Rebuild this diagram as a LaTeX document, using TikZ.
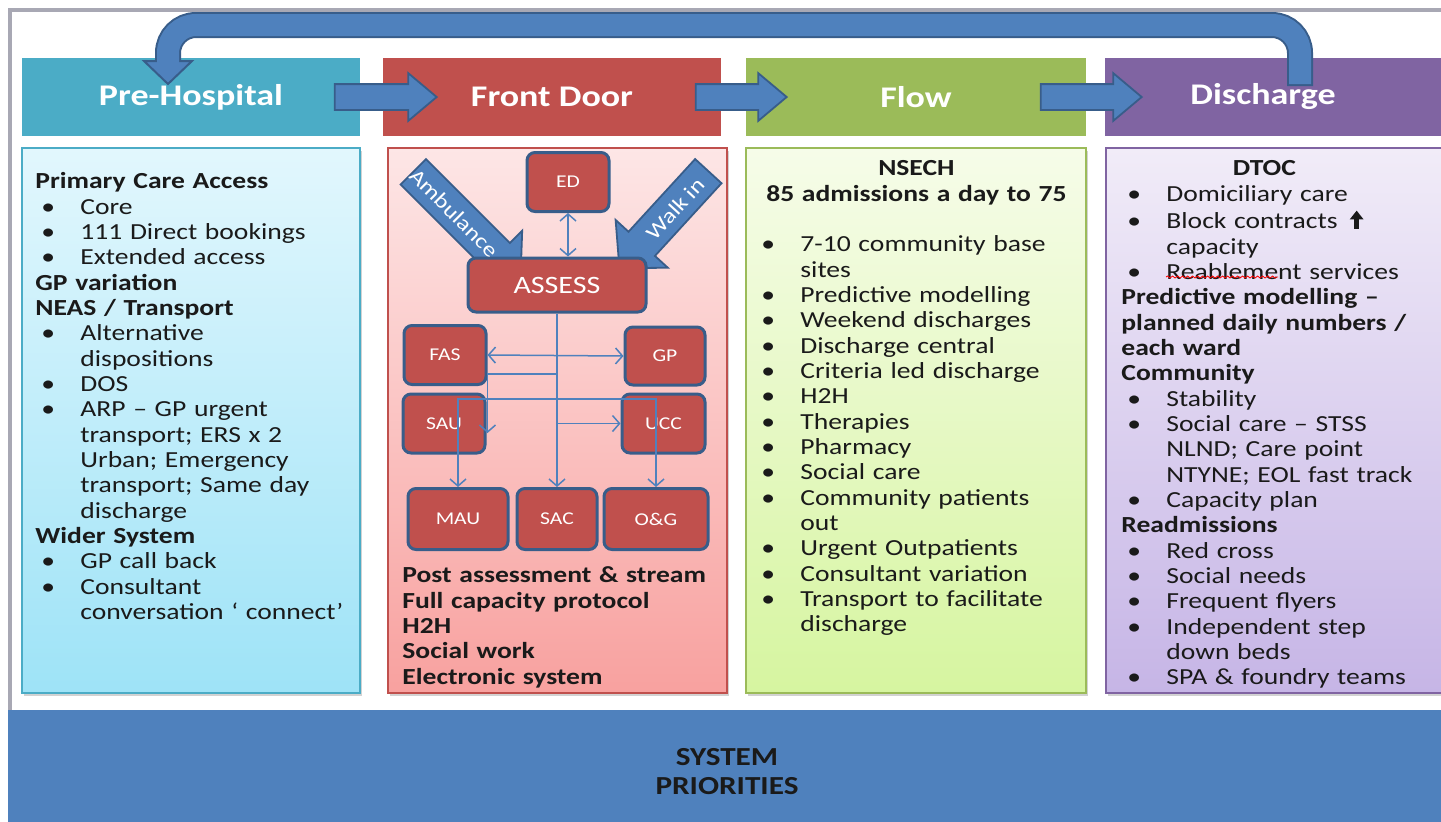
\documentclass[tikz,border=0pt]{standalone}
\usepackage{fontspec}
\setmainfont{Carlito}[FakeStretch=1.2]
\usepackage{tikz}
\usetikzlibrary{positioning, arrows.meta, shapes.arrows, shadows, calc, decorations.pathmorphing}

% colours of the four stages
\definecolor{preHead}{HTML}{4BACC6}
\definecolor{frontHead}{HTML}{C0504D}
\definecolor{flowHead}{HTML}{9BBB59}
\definecolor{dischHead}{HTML}{8064A2}
\definecolor{preTop}{HTML}{E2F7FD}
\definecolor{preBot}{HTML}{9EE3F7}
\definecolor{frontTop}{HTML}{FDE6E6}
\definecolor{frontBot}{HTML}{F8A19F}
\definecolor{flowTop}{HTML}{F6FCE9}
\definecolor{flowBot}{HTML}{D6F5A0}
\definecolor{dischTop}{HTML}{F1ECF8}
\definecolor{dischBot}{HTML}{C6B5E6}
\definecolor{arrowBlue}{HTML}{4F81BD}
\definecolor{edgeBlue}{HTML}{385D8A}
\definecolor{frameGray}{HTML}{A8A8B4}
\definecolor{inkDark}{HTML}{1A1A1A}

% list lines in the panels
\newcommand{\hd}[1]{\par\noindent\strut\textbf{#1}}
\newcommand{\bl}[1]{\par\hangindent=22.5pt\hangafter=1\noindent\strut\hbox to 22.5pt{\hspace{3pt}\textbullet\hfil}#1}
\newcommand{\ctr}[2]{\par\noindent\hbox to #1{\hfil\strut\textbf{#2}\hfil}}
% heavy up arrow
\newcommand{\uparr}{\tikz[x=1pt,y=1pt,baseline=0pt]{\fill (2.2,0) rectangle (4.8,5); \fill (0,4.6) -- (7,4.6) -- (3.5,9) -- cycle;}}

\begin{document}
\begin{tikzpicture}[
    x=0.5pt, y=-0.5pt,
    every node/.style={inner sep=0pt},
    >={Straight Barb[length=3.5pt,width=8pt]},
    hdr/.style={fill=#1, minimum height=39pt, text=white,
        font=\fontsize{15}{18}\selectfont\bfseries},
    panel/.style n args={3}{draw=#1, line width=0.75pt, top color=#2,
        bottom color=#3, minimum height=272.5pt,
        drop shadow={shadow xshift=1.2pt, shadow yshift=-1.5pt, opacity=0.35}},
    listtext/.style={anchor=north west, text width=#1, align=left,
        text=inkDark, font=\fontsize{11.5}{12.67}\selectfont},
    blockarrow/.style={single arrow, fill=arrowBlue, draw=edgeBlue,
        line width=0.9pt, single arrow head extend=5.5pt,
        single arrow tip angle=80, inner xsep=0pt, inner ysep=6pt,
        text height=0pt, text depth=0pt},
    sidearrow/.style={single arrow, fill=arrowBlue, draw=edgeBlue,
        line width=0.9pt, single arrow head extend=8.75pt,
        single arrow tip angle=94, inner xsep=0pt, inner ysep=8.5pt,
        text height=0pt, text depth=0pt},
    sidetext/.style={text=white, font=\fontsize{10.5}{12}\selectfont},
    unit/.style={rectangle, rounded corners=4pt, fill=frontHead,
        draw=edgeBlue, line width=1.5pt, text=white,
        font=\fontsize{9}{10}\selectfont},
    link/.style={draw=arrowBlue, line width=0.75pt}
]
    \useasboundingbox (0,0) rectangle (1441,821);
    \fill[white] (0,0) rectangle (1441,821);

    % 1. Frame and bottom band
    \draw[frameGray, line width=2pt] (8,10) -- (1445,10);
    \draw[frameGray, line width=2pt] (10,10) -- (10,712);
    \fill[arrowBlue] (8,710) rectangle (1445,825);
    \node[align=center, text=inkDark, font=\fontsize{13}{14.5}\selectfont\bfseries]
        (prio) at (727,771.5) {SYSTEM\\PRIORITIES};

    % 2. Stage headers
    \node[hdr=preHead, minimum width=169pt] (pre) at (191,97) {Pre-Hospital};
    \node[hdr=frontHead, minimum width=169pt] (front) at (552,97) {Front Door};
    \node[hdr=flowHead, minimum width=170pt] (flow) at (916,97) {Flow};
    \node[hdr=dischHead, minimum width=170pt] (disch) at (1275,97) {\hspace*{-12pt}Discharge};

    % arrows between the headers
    \node[blockarrow, minimum height=51pt] (arrA) at (378,97) {};
    \node[blockarrow, minimum height=45.5pt] (arrB) at (733.5,97) {};
    \node[blockarrow, minimum height=50.5pt] (arrC) at (1083.5,97) {};

    % loop back from Discharge to Pre-Hospital
    \coordinate (loopS) at (1300,84);
    \coordinate (loopE) at (168,61);
    \draw[edgeBlue, line width=13pt, rounded corners=14pt]
        ($(loopS)+(0,2)$) -- (loopS |- 0,25) -- (loopE |- 0,25) -- (loopE);
    \filldraw[fill=arrowBlue, draw=edgeBlue, line width=1pt]
        ($(loopE)+(-24,0)$) -- ($(loopE)+(24,0)$) -- ($(loopE)+(0,23)$) -- cycle;
    \draw[arrowBlue, line width=11pt, rounded corners=14pt]
        (loopS) -- (loopS |- 0,25) -- (loopE |- 0,25) -- ($(loopE)+(0,2)$);

    % 3. Content panels
    \node[panel={preHead}{preTop}{preBot}, minimum width=169pt] (preBox) at (191,420.5) {};
    \node[panel={frontHead}{frontTop}{frontBot}, minimum width=169.5pt] (frontBox) at (557.5,420.5) {};
    \node[panel={flowHead}{flowTop}{flowBot}, minimum width=170pt] (flowBox) at (916,420.5) {};
    \node[panel={dischHead}{dischTop}{dischBot}, minimum width=170pt] (dischBox) at (1276,420.5) {};

    % Pre-Hospital list
    \node[listtext=162pt] (preList) at (35,163) {%
        \hd{Primary Care Access}
        \bl{Core}
        \bl{111 Direct bookings}
        \bl{Extended access}
        \hd{GP variation}
        \hd{NEAS / Transport}
        \bl{Alternative\newline dispositions}
        \bl{DOS}
        \bl{ARP – GP urgent\newline transport; ERS x 2\newline Urban; Emergency\newline transport; Same day\newline discharge}
        \hd{Wider System}
        \bl{GP call back}
        \bl{Consultant\newline conversation ‘ connect’}\par};

    % Front Door chart
    \node[sidearrow, rotate=-45, minimum height=75.8pt] (amb) at (461,219.5) {};
    \node[sidetext, rotate=-45] (ambText) at (454,213) {Ambulance};
    \node[sidearrow, rotate=47.5, shape border rotate=180, minimum height=65.8pt] (walk) at (669.5,213.5) {};
    \node[sidetext, rotate=47.5] (walkText) at (675,209) {Walk in};
    \node[unit, minimum width=41pt, minimum height=29.5pt] (ed) at (568,182) {ED};
    \node[unit, minimum width=89pt, minimum height=27pt,
        font=\fontsize{12.5}{14}\selectfont] (assess) at (557,285) {ASSESS};
    \node[unit, minimum width=41pt, minimum height=29.5pt] (fas) at (445,355) {FAS};
    \node[unit, minimum width=40pt, minimum height=29pt] (gp) at (665,356) {GP};
    \node[unit, minimum width=41pt, minimum height=29.5pt] (sau) at (444,423.5) {SAU};
    \node[unit, minimum width=41.5pt, minimum height=29.5pt] (ucc) at (663.5,423.5) {UCC};
    \node[unit, minimum width=50pt, minimum height=30.5pt] (mau) at (458,519) {MAU};
    \node[unit, minimum width=40pt, minimum height=30.5pt] (sac) at (557,519) {SAC};
    \node[unit, minimum width=52pt, minimum height=30.5pt] (og) at (656,519) {O\&G};

    \coordinate (fasTap) at ($(fas.south east)+(0,-12)$);
    \draw[link, <->] (ed.south) -- (ed.south |- assess.north);
    \draw[link, ->] (assess.south) -- (sac.north);
    \draw[link, <->] (fas.east) -- (gp.west);
    \draw[link, ->] (assess.south |- fasTap) -- (fasTap) -- ++(0,59);
    \draw[link, <->] (mau.north) -- ++(0,-88) -| (og.north);
    \draw[link, ->] (assess.south |- ucc.west) -- (ucc.west);

    \node[listtext=160pt] (frontList) at (402,557) {%
        \hd{Post assessment \& stream}
        \hd{Full capacity protocol}
        \hd{H2H}
        \hd{Social work}
        \hd{Electronic system}\par};

    % Flow list
    \node[listtext=160pt] (flowList) at (755,150) {%
        \ctr{161pt}{NSECH}
        \ctr{161pt}{85 admissions a day to 75}
        \par\noindent\strut
        \bl{7-10 community base\newline sites}
        \bl{Predictive modelling}
        \bl{Weekend discharges}
        \bl{Discharge central}
        \bl{Criteria led discharge}
        \bl{H2H}
        \bl{Therapies}
        \bl{Pharmacy}
        \bl{Social care}
        \bl{Community patients\newline out}
        \bl{Urgent Outpatients}
        \bl{Consultant variation}
        \bl{Transport to facilitate\newline discharge}\par};

    % Discharge list
    \node[listtext=160pt] (dischList) at (1121,150) {%
        \ctr{143pt}{DTOC}
        \bl{Domiciliary care}
        \bl{Block contracts\hspace{6pt}\uparr\newline capacity}
        \bl{Reablement services}
        \hd{Predictive modelling –\newline planned daily numbers /\newline each ward}
        \hd{Community}
        \bl{Stability}
        \bl{Social care – STSS\newline NLND; Care point\newline NTYNE; EOL fast track}
        \bl{Capacity plan}
        \hd{Readmissions}
        \bl{Red cross}
        \bl{Social needs}
        \bl{Frequent flyers}
        \bl{Independent step\newline down beds}
        \bl{SPA \& foundry teams}\par};
    % spelling squiggle under "Reablement"
    \draw[red, line width=0.4pt, decorate,
        decoration={snake, amplitude=0.5pt, segment length=2.5pt}]
        (1166,277) -- (1278,277);
\end{tikzpicture}
\end{document}
